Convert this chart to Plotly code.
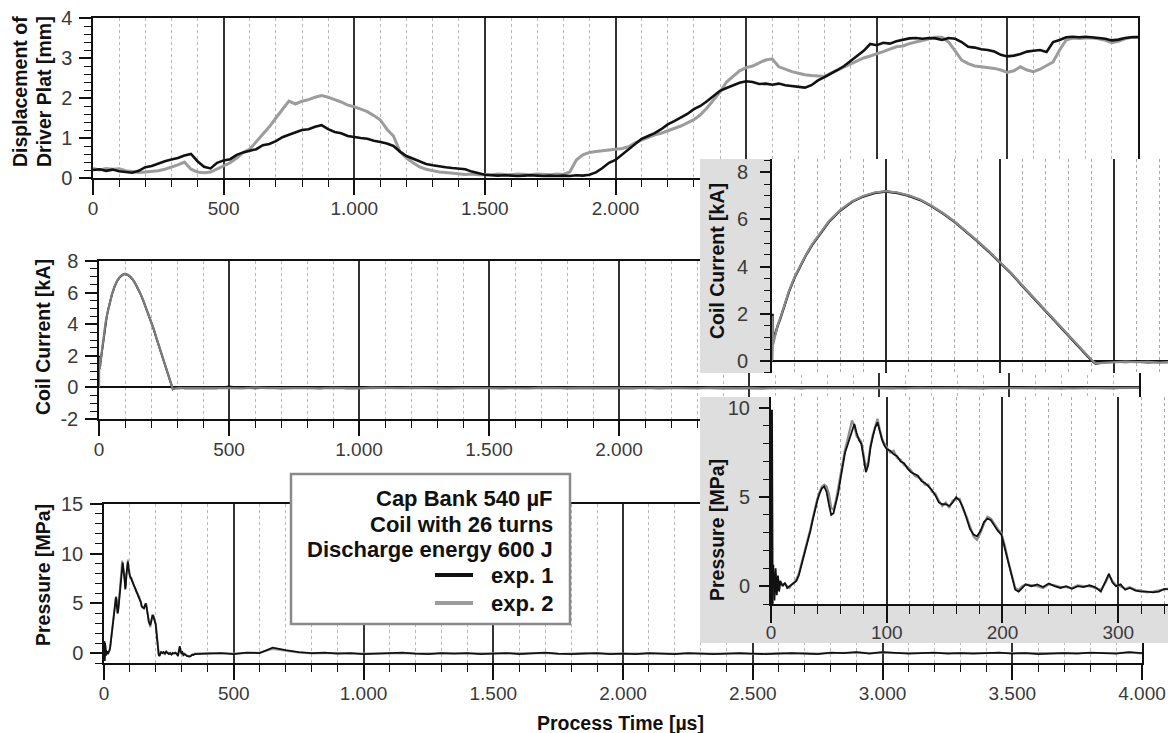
import plotly.graph_objects as go

W, H = 1168, 733

# ---------------- data ----------------
# Displacement of driver plate [mm], sampled every 25 µs from 0 to 4000 µs
disp_t = list(range(0, 4001, 25))
disp_exp1 = [
    0.20, 0.22, 0.18, 0.21, 0.17, 0.15, 0.13, 0.18,
    0.27, 0.30, 0.36, 0.42, 0.46, 0.50, 0.56, 0.60,
    0.42, 0.28, 0.24, 0.38, 0.44, 0.47, 0.58, 0.64,
    0.68, 0.72, 0.82, 0.85, 0.92, 1.02, 1.08, 1.15,
    1.20, 1.22, 1.28, 1.32, 1.22, 1.15, 1.12, 1.05,
    1.02, 1.00, 0.98, 0.93, 0.90, 0.86, 0.80, 0.66,
    0.55, 0.48, 0.40, 0.35, 0.32, 0.29, 0.27, 0.25,
    0.24, 0.22, 0.16, 0.12, 0.08, 0.07, 0.06, 0.07,
    0.06, 0.05, 0.06, 0.07, 0.06, 0.05, 0.06, 0.05,
    0.06, 0.05, 0.07, 0.06, 0.08, 0.14, 0.25, 0.38,
    0.45, 0.58, 0.72, 0.85, 0.98, 1.05, 1.12, 1.22,
    1.34, 1.42, 1.50, 1.60, 1.72, 1.80, 1.92, 2.05,
    2.18, 2.25, 2.32, 2.38, 2.42, 2.40, 2.35, 2.36,
    2.33, 2.36, 2.32, 2.30, 2.27, 2.26, 2.32, 2.44,
    2.52, 2.60, 2.70, 2.80, 2.92, 3.05, 3.18, 3.35,
    3.32, 3.38, 3.36, 3.42, 3.46, 3.49, 3.50, 3.48,
    3.50, 3.49, 3.45, 3.50, 3.48, 3.40, 3.28, 3.26,
    3.22, 3.20, 3.16, 3.08, 3.04, 3.06, 3.10, 3.16,
    3.18, 3.20, 3.15, 3.40, 3.45, 3.52, 3.53, 3.52,
    3.53, 3.52, 3.50, 3.48, 3.44, 3.46, 3.50, 3.52,
    3.52,
]
disp_exp2 = [
    0.24, 0.20, 0.24, 0.22, 0.23, 0.18, 0.16, 0.14,
    0.15, 0.16, 0.18, 0.22, 0.27, 0.33, 0.40, 0.22,
    0.15, 0.13, 0.15, 0.22, 0.30, 0.38, 0.50, 0.64,
    0.72, 0.90, 1.08, 1.28, 1.50, 1.70, 1.92, 1.85,
    1.92, 1.96, 2.02, 2.06, 2.02, 1.96, 1.90, 1.82,
    1.78, 1.72, 1.66, 1.56, 1.45, 1.22, 1.05, 0.66,
    0.50, 0.38, 0.28, 0.22, 0.18, 0.15, 0.14, 0.12,
    0.10, 0.09, 0.10, 0.08, 0.09, 0.08, 0.10, 0.09,
    0.08, 0.10, 0.09, 0.08, 0.10, 0.09, 0.08, 0.10,
    0.09, 0.15, 0.45, 0.58, 0.64, 0.66, 0.68, 0.70,
    0.72, 0.74, 0.78, 0.88, 0.95, 1.02, 1.08, 1.12,
    1.18, 1.24, 1.30, 1.38, 1.46, 1.58, 1.75, 1.95,
    2.15, 2.40, 2.55, 2.68, 2.76, 2.80, 2.88, 2.95,
    2.98, 2.78, 2.72, 2.66, 2.62, 2.58, 2.56, 2.55,
    2.54, 2.62, 2.70, 2.78, 2.86, 2.92, 3.00, 3.05,
    3.10, 3.16, 3.22, 3.28, 3.30, 3.36, 3.40, 3.44,
    3.48, 3.52, 3.52, 3.40, 3.18, 2.95, 2.86, 2.80,
    2.78, 2.76, 2.74, 2.70, 2.64, 2.68, 2.78, 2.70,
    2.66, 2.72, 2.82, 2.90, 3.20, 3.45, 3.50, 3.49,
    3.50, 3.50, 3.48, 3.44, 3.38, 3.42, 3.48, 3.52,
    3.53,
]

# Coil current [kA]
coil_t = [0, 0.5, 1, 3, 5, 7, 10, 15, 20, 25, 30, 35, 40, 45, 50,
          60, 70, 80, 90, 100, 110, 120, 130, 140, 150, 160, 170, 180, 190, 200,
          210, 220, 230, 240, 250, 260, 270, 280, 284, 290, 300, 310, 320, 330, 340, 350] \
    + list(range(400, 4001, 50))
coil_exp1 = [0.00, 2.00, 0.85, 1.20, 1.50, 1.75, 2.20, 2.95, 3.55, 4.05, 4.50, 4.90, 5.25, 5.60, 5.90,
             6.38, 6.74, 6.97, 7.12, 7.18, 7.12, 7.00, 6.82, 6.56, 6.25, 5.90, 5.50, 5.08, 4.64, 4.18,
             3.70, 3.16, 2.64, 2.12, 1.60, 1.06, 0.54, 0.04, -0.12, -0.06, -0.03, -0.05, -0.02, -0.06, -0.04, -0.05,
             -0.04, -0.06, 0.06, -0.03, -0.05, -0.02, -0.06, -0.04, -0.03, -0.05,
             0.02, -0.05, -0.04, -0.06, -0.03, -0.05, -0.04, -0.02, -0.06, -0.04,
             -0.05, -0.03, -0.04, -0.06, -0.02, -0.05, -0.04, -0.03, -0.06, -0.04,
             -0.05, -0.03, -0.04, -0.05, -0.02, -0.06, -0.04, -0.03, -0.05, -0.04,
             -0.06, -0.03, -0.04, -0.05, -0.02, -0.04, -0.06, -0.03, -0.05, -0.04,
             -0.03, -0.05, -0.04, -0.06, -0.02, -0.05, -0.04, -0.03, -0.05, -0.04,
             -0.06, -0.03, -0.04, -0.05, -0.02, -0.04, -0.06, -0.03, -0.05, -0.04,
             -0.05, -0.03, -0.04]
coil_exp2 = [0.00, 1.90, 0.70, 1.15, 1.52, 1.78, 2.25, 2.98, 3.58, 4.08, 4.52, 4.93, 5.28, 5.62, 5.93,
             6.40, 6.76, 6.99, 7.14, 7.20, 7.14, 7.02, 6.84, 6.58, 6.27, 5.92, 5.52, 5.10, 4.66, 4.20,
             3.72, 3.18, 2.66, 2.14, 1.62, 1.08, 0.56, 0.06, -0.10, -0.08, -0.05, -0.03, -0.05, -0.04, -0.07, -0.04,
             -0.05, -0.03, -0.04, -0.06, -0.02, -0.05, -0.03, -0.05, -0.04, -0.06,
             -0.03, -0.04, -0.06, -0.02, -0.05, -0.04, -0.03, -0.05, -0.04, -0.06,
             -0.04, -0.05, -0.03, -0.05, -0.04, -0.06, -0.03, -0.05, -0.04, -0.03,
             -0.04, -0.06, -0.03, -0.04, -0.05, -0.03, -0.05, -0.04, -0.06, -0.03,
             -0.05, -0.04, -0.03, -0.06, -0.04, -0.05, -0.03, -0.04, -0.06, -0.05,
             -0.04, -0.03, -0.05, -0.04, -0.06, -0.03, -0.05, -0.04, -0.04, -0.05,
             -0.03, -0.05, -0.06, -0.04, -0.03, -0.05, -0.04, -0.06, -0.04, -0.03,
             -0.04, -0.05, -0.03]

# Pressure [MPa]
pres_t = [0, 2, 3, 4, 5, 6, 7, 8, 10, 12,
          14, 16, 18, 20, 22, 24, 26, 28, 30, 32,
          34, 36, 38, 40, 42, 44, 46, 48, 50, 52,
          54, 56, 58, 60, 62, 64, 66, 68, 70, 72,
          74, 76, 78, 80, 82, 84, 86, 88, 90, 92,
          94, 96, 98, 100, 103, 106, 109, 112, 115, 118,
          121, 124, 127, 130, 133, 136, 139, 142, 145, 148,
          151, 154, 157, 160, 163, 166, 169, 172, 175, 178,
          181, 184, 187, 190, 193, 196, 199, 202, 205, 208,
          211, 214, 217, 220, 225, 230, 235, 240, 245, 250,
          255, 260, 265, 270, 275, 280, 285, 289, 292, 295,
          298, 302, 306, 310, 315, 320, 325, 330, 335, 340,
          345] + list(range(350, 4001, 50))
pres_exp1 = [0.0, 1.2, -0.8, 1.0, -0.5, 0.6, -0.3, 0.3, 0.0, 0.2,
             -0.1, 0.0, 0.1, 0.2, 0.3, 0.6, 1.1, 1.6, 2.0, 2.5,
             3.1, 3.7, 4.3, 4.8, 5.2, 5.5, 5.6, 5.3, 4.6, 4.0,
             4.1, 4.6, 5.2, 6.0, 6.8, 7.5, 7.9, 8.3, 8.8, 9.1,
             8.6, 8.2, 8.0, 7.2, 6.4, 6.8, 7.8, 8.4, 8.9, 9.2,
             8.6, 8.2, 7.9, 7.7, 7.6, 7.4, 7.3, 7.0, 6.9, 6.6,
             6.4, 6.3, 6.2, 5.9, 5.8, 5.6, 5.4, 5.1, 4.7, 4.6,
             4.6, 4.5, 4.7, 5.0, 4.8, 4.4, 3.8, 3.2, 2.9, 2.8,
             3.1, 3.6, 3.8, 3.7, 3.4, 3.1, 2.9, 2.1, 1.3, 0.5,
             -0.2, -0.3, -0.1, 0.1, 0.0, 0.1, -0.05, 0.15, 0.0, -0.1,
             0.0, -0.15, 0.0, -0.05, 0.05, -0.05, -0.3, 0.3, 0.7, 0.2,
             0.0, 0.1, -0.2, -0.1, -0.25, -0.3, -0.3, -0.35, -0.3, -0.15,
             -0.2,
             -0.1, -0.05, 0.0, -0.1, 0.05, 0.0, 0.55, 0.3, 0.1, 0.0,
             0.05, -0.05, 0.0, -0.1, -0.05, 0.0, 0.05, -0.05, -0.1, 0.0,
             -0.05, 0.0, -0.1, -0.05, 0.0, -0.1, -0.05, 0.05, -0.05, -0.1,
             -0.05, 0.0, -0.1, -0.05, -0.1, 0.0, -0.05, -0.1, 0.0, -0.05,
             -0.1, -0.05, 0.0, -0.05, -0.1, -0.05, 0.0, -0.05, -0.1, 0.05,
             0.0, 0.1, -0.05, 0.1, 0.05, -0.05, 0.0, 0.05, -0.05, 0.0,
             -0.05, 0.0, 0.05, -0.05, 0.0, -0.1, -0.05, 0.0, -0.05, 0.05,
             0.0, -0.05, 0.1, 0.0]
pres_exp2 = [0.0, 0.8, -0.5, 0.7, -0.3, 0.4, -0.2, 0.2, 0.1, 0.1,
             0.0, -0.1, 0.1, 0.2, 0.4, 0.7, 1.2, 1.7, 2.1, 2.6,
             3.2, 3.8, 4.4, 4.9, 5.3, 5.6, 5.7, 5.6, 5.2, 4.4,
             4.3, 4.8, 5.5, 6.3, 7.0, 7.7, 8.2, 8.7, 9.3, 9.0,
             8.4, 8.3, 8.1, 7.4, 6.6, 7.0, 7.9, 8.5, 9.0, 9.4,
             8.8, 8.3, 8.0, 7.8, 7.5, 7.6, 7.2, 7.1, 6.8, 6.7,
             6.5, 6.2, 6.1, 6.0, 5.7, 5.7, 5.3, 5.2, 4.8, 4.5,
             4.7, 4.4, 4.8, 4.9, 4.9, 4.3, 3.9, 3.3, 2.8, 2.6,
             3.0, 3.5, 3.9, 3.8, 3.5, 3.2, 3.0, 2.3, 1.4, 0.6,
             -0.1, -0.2, 0.0, 0.1, 0.05, 0.0, -0.1, 0.1, 0.05, -0.05,
             -0.05, -0.1, 0.05, 0.0, 0.0, -0.1, -0.2, 0.2, 0.6, 0.3,
             0.05, 0.0, -0.15, -0.05, -0.2, -0.25, -0.35, -0.3, -0.25, -0.2,
             -0.15,
             -0.05, 0.0, -0.05, -0.05, 0.0, 0.05, 0.4, 0.2, 0.05, -0.05,
             0.0, 0.0, -0.05, -0.05, 0.0, -0.05, 0.0, 0.0, -0.05, -0.05,
             0.0, -0.05, -0.05, 0.0, -0.05, -0.05, 0.0, 0.0, -0.1, -0.05,
             0.0, -0.05, -0.05, 0.0, -0.05, -0.05, 0.0, -0.05, -0.05, 0.0,
             -0.05, 0.0, -0.05, -0.1, -0.05, 0.0, -0.05, 0.0, -0.05, 0.0,
             0.05, 0.05, 0.0, 0.05, 0.0, 0.0, -0.05, 0.0, 0.0, -0.05,
             0.0, -0.05, 0.0, 0.0, -0.05, -0.05, 0.0, -0.05, 0.0, 0.0,
             -0.05, 0.0, 0.05, -0.05]
# trigger spike at the very start, visible only in the zoomed pressure view
pres_spike_t = [0.0, 0.6, 1.2]
pres_spike_v = [-1.0, 9.9, -1.0]

# tick labels of the long time axes (labels hidden behind the insets are left blank)
time_tick_vals = [0, 500, 1000, 1500, 2000, 2500, 3000, 3500, 4000]
time_tick_text = ["0", "500", "1.000", "1.500", "2.000", "2.500", "3.000", "3.500", "4.000"]
time_tick_text_covered = ["0", "500", "1.000", "1.500", "2.000", "", "", "", ""]

# text
legend_lines = ["Cap Bank 540 µF", "Coil with 26 turns", "Discharge energy 600 J"]
series_names = ["exp. 1", "exp. 2"]

assert len(disp_t) == len(disp_exp1) == len(disp_exp2)
assert len(coil_t) == len(coil_exp1) == len(coil_exp2)
assert len(pres_t) == len(pres_exp1) == len(pres_exp2)

# ---------------- styling ----------------
C1, C2 = "#111111", "#9c9c9c"
AX = "#111111"
TICKFONT = dict(family="Liberation Sans, Arial, sans-serif", size=19, color="#3a3a3a")
TITLEFONT = dict(family="Liberation Sans, Arial, sans-serif", size=19.5, color="#111111")
INSET_BG = "#dedede"


def fx(p):
    return p / W


def fy(p):
    return 1 - p / H


def xdom(a, b):
    return [fx(a), fx(b)]


def ydom(top, bottom):
    return [fy(bottom), fy(top)]


fig = go.Figure()

# main displacement
fig.add_trace(go.Scatter(x=disp_t, y=disp_exp2, mode="lines", line=dict(color=C2, width=3), xaxis="x", yaxis="y"))
fig.add_trace(go.Scatter(x=disp_t, y=disp_exp1, mode="lines", line=dict(color=C1, width=2.6), xaxis="x", yaxis="y"))
# main coil current
fig.add_trace(go.Scatter(x=coil_t, y=coil_exp1, mode="lines", line=dict(color=C1, width=2), xaxis="x2", yaxis="y2"))
fig.add_trace(go.Scatter(x=coil_t, y=coil_exp2, mode="lines", line=dict(color="#7c7c7c", width=2.2), xaxis="x2", yaxis="y2"))
# main pressure
fig.add_trace(go.Scatter(x=pres_t, y=pres_exp2, mode="lines", line=dict(color=C2, width=2), xaxis="x3", yaxis="y3"))
fig.add_trace(go.Scatter(x=pres_t, y=pres_exp1, mode="lines", line=dict(color=C1, width=1.8), xaxis="x3", yaxis="y3"))

# inset backgrounds (drawn in their own subplot so they cover the main charts below)
BOX_X = [0, 1, 1, 0, 0]
BOX_Y = [0, 0, 1, 1, 0]
fig.add_trace(go.Scatter(x=BOX_X, y=BOX_Y, fill="toself", fillcolor=INSET_BG, mode="lines",
                         line=dict(width=0, color=INSET_BG), hoverinfo="skip", xaxis="x4", yaxis="y4"))
# coil inset
fig.add_trace(go.Scatter(x=coil_t, y=coil_exp1, mode="lines", line=dict(color=C1, width=2.4), xaxis="x5", yaxis="y5"))
fig.add_trace(go.Scatter(x=coil_t, y=coil_exp2, mode="lines", line=dict(color="#8a8a8a", width=2.2), xaxis="x5", yaxis="y5"))
fig.add_trace(go.Scatter(x=BOX_X, y=BOX_Y, fill="toself", fillcolor=INSET_BG, mode="lines",
                         line=dict(width=0, color=INSET_BG), hoverinfo="skip", xaxis="x6", yaxis="y6"))
# pressure inset
fig.add_trace(go.Scatter(x=pres_t, y=pres_exp2, mode="lines", line=dict(color="#8f8f8f", width=2.2), xaxis="x7", yaxis="y7"))
fig.add_trace(go.Scatter(x=pres_t, y=pres_exp1, mode="lines", line=dict(color=C1, width=1.8), xaxis="x7", yaxis="y7"))
fig.add_trace(go.Scatter(x=pres_spike_t, y=pres_spike_v, mode="lines", line=dict(color=C1, width=2.5), xaxis="x7", yaxis="y7"))


def main_x(domain, anchor, labels):
    return dict(domain=domain, anchor=anchor, range=[0, 4000],
                tickmode="array", tickvals=time_tick_vals, ticktext=labels,
                ticks="outside", ticklen=15, tickwidth=1.5, tickcolor=AX,
                showline=True, linecolor=AX, linewidth=1.5, mirror=True,
                showgrid=True, gridcolor="#333333", gridwidth=1.6, zeroline=False,
                minor=dict(tickmode="linear", tick0=0, dtick=100, ticks="outside", ticklen=7, tickwidth=1,
                           tickcolor=AX, showgrid=True, gridcolor="#b8b8b8", griddash="dot", gridwidth=1),
                tickfont=TICKFONT, ticklabelstandoff=-3, fixedrange=True)


def main_y(domain, anchor, rng, dtick, mdtick, zeroline=False, **kw):
    d = dict(domain=domain, anchor=anchor, range=rng, tickmode="linear", tick0=0, dtick=dtick,
             ticks="outside", ticklen=12, tickwidth=1.5, tickcolor=AX,
             showline=True, linecolor=AX, linewidth=1.5, mirror=True, showgrid=False,
             zeroline=zeroline, zerolinecolor=AX, zerolinewidth=1.5,
             minor=dict(tickmode="linear", tick0=0, dtick=mdtick, ticks="outside", ticklen=7, tickwidth=1,
                        tickcolor=AX, showgrid=False),
             tickfont=dict(TICKFONT, size=20), ticklabelstandoff=3, fixedrange=True)
    d.update(kw)
    return d


hidden = dict(visible=False, range=[0, 1], fixedrange=True, showgrid=False, zeroline=False)

fig.update_layout(
    width=W, height=H, margin=dict(l=0, r=0, t=0, b=0),
    paper_bgcolor="white", plot_bgcolor="white", template="none",
    showlegend=False, separators=",.",
    xaxis=main_x(xdom(93, 1138), "y", time_tick_text_covered),
    yaxis=main_y(ydom(18, 178), "x", [0, 4], 1, 0.2),
    xaxis2=main_x(xdom(99, 1139), "y2", time_tick_text_covered),
    yaxis2=main_y(ydom(261, 419), "x2", [-2, 8], 2, 0.5, zeroline=True,
                  tickmode="array", tickvals=[-2, 0, 2, 4, 6, 8], ticktext=["-2", "0", "2", "4", "6", "8"]),
    xaxis3=main_x(xdom(104, 1142), "y3", time_tick_text),
    yaxis3=main_y(ydom(504, 663), "x3", [-1, 15], 5, 1),
    # coil inset
    xaxis4=dict(hidden, domain=xdom(700, 1168), anchor="y4"),
    yaxis4=dict(hidden, domain=ydom(159, 373), anchor="x4"),
    xaxis5=dict(domain=xdom(772, 1168), anchor="y5", range=[0, 347.4], tickmode="linear", tick0=0, dtick=100,
                showticklabels=False, ticks="", showline=False, zeroline=False,
                showgrid=True, gridcolor="#2a2a2a", gridwidth=1.6,
                minor=dict(tickmode="linear", tick0=0, dtick=20, showgrid=True, gridcolor="#a9a9a9",
                           griddash="dot", gridwidth=1),
                fixedrange=True),
    yaxis5=dict(domain=ydom(159, 373), anchor="x5", range=[-0.51, 8.56], tickmode="linear", tick0=0, dtick=2,
                ticks="outside", ticklen=10, tickwidth=1.5, tickcolor=AX,
                showline=True, linecolor=AX, linewidth=2, showgrid=False,
                zeroline=True, zerolinecolor=AX, zerolinewidth=1.5,
                minor=dict(tickmode="linear", tick0=0, dtick=0.5, ticks="outside", ticklen=6, tickwidth=1,
                           tickcolor=AX, showgrid=False),
                tickfont=dict(TICKFONT, size=20), ticklabelstandoff=8, fixedrange=True),
    # pressure inset
    xaxis6=dict(hidden, domain=xdom(700, 1168), anchor="y6"),
    yaxis6=dict(hidden, domain=ydom(397, 643), anchor="x6"),
    xaxis7=dict(domain=xdom(771, 1168), anchor="y7", range=[0, 343], tickmode="linear", tick0=0, dtick=100,
                ticks="outside", ticklen=17, tickwidth=1.5, tickcolor=AX,
                showline=True, linecolor=AX, linewidth=1.5, zeroline=False,
                showgrid=True, gridcolor="#2a2a2a", gridwidth=1.6,
                minor=dict(tickmode="linear", tick0=0, dtick=20, ticks="outside", ticklen=8, tickwidth=1,
                           tickcolor=AX, showgrid=True, gridcolor="#a9a9a9", griddash="dot", gridwidth=1),
                tickfont=TICKFONT, ticklabelstandoff=-7, fixedrange=True),
    yaxis7=dict(domain=ydom(397, 604), anchor="x7", range=[-1, 10.62], tickmode="linear", tick0=0, dtick=5,
                ticks="outside", ticklen=10, tickwidth=1.5, tickcolor=AX,
                showline=True, linecolor=AX, linewidth=2, showgrid=False, zeroline=False,
                minor=dict(tickmode="linear", tick0=0, dtick=1, ticks="outside", ticklen=6, tickwidth=1,
                           tickcolor=AX, showgrid=False),
                tickfont=dict(TICKFONT, size=20), ticklabelstandoff=5, fixedrange=True),
)


# axis titles as rotated annotations
def vtitle(text, x, y):
    fig.add_annotation(text="<b>%s</b>" % text, x=fx(x), y=fy(y), xref="paper", yref="paper",
                       textangle=-90, showarrow=False, xanchor="center", yanchor="middle", font=TITLEFONT)


vtitle("Displacement of", 20, 92)
vtitle("Driver Plat [mm]", 44, 92)
vtitle("Coil Current [kA]", 43, 337)
vtitle("Pressure [MPa]", 43, 575)
vtitle("Coil Current [kA]", 717, 261)
vtitle("Pressure [MPa]", 717, 530)
fig.add_annotation(text="<b>Process Time [µs]</b>", x=fx(620), y=fy(723), xref="paper", yref="paper",
                   showarrow=False, xanchor="center", yanchor="middle", font=TITLEFONT)

# legend / info box
fig.add_shape(type="rect", xref="paper", yref="paper", x0=fx(291), x1=fx(570), y0=fy(624), y1=fy(474),
              fillcolor="white", line=dict(color="#8a8a8a", width=2.5), layer="above")
LEGFONT = dict(family="Liberation Sans, Arial, sans-serif", size=22, color="#111111")
for txt, ypx in zip(legend_lines + series_names, [498, 524, 549, 575, 603]):
    fig.add_annotation(text="<b>%s</b>" % txt, x=fx(555), y=fy(ypx), xref="paper", yref="paper",
                       showarrow=False, xanchor="right", yanchor="middle", font=LEGFONT)
for col, ypx in zip([C1, C2], [575, 603]):
    fig.add_shape(type="line", xref="paper", yref="paper", x0=fx(435), x1=fx(473), y0=fy(ypx), y1=fy(ypx),
                  line=dict(color=col, width=4), layer="above")

fig.write_html("out.html", config={"displayModeBar": False},
               post_script="document.body.style.margin='0';document.body.style.overflow='hidden';")
